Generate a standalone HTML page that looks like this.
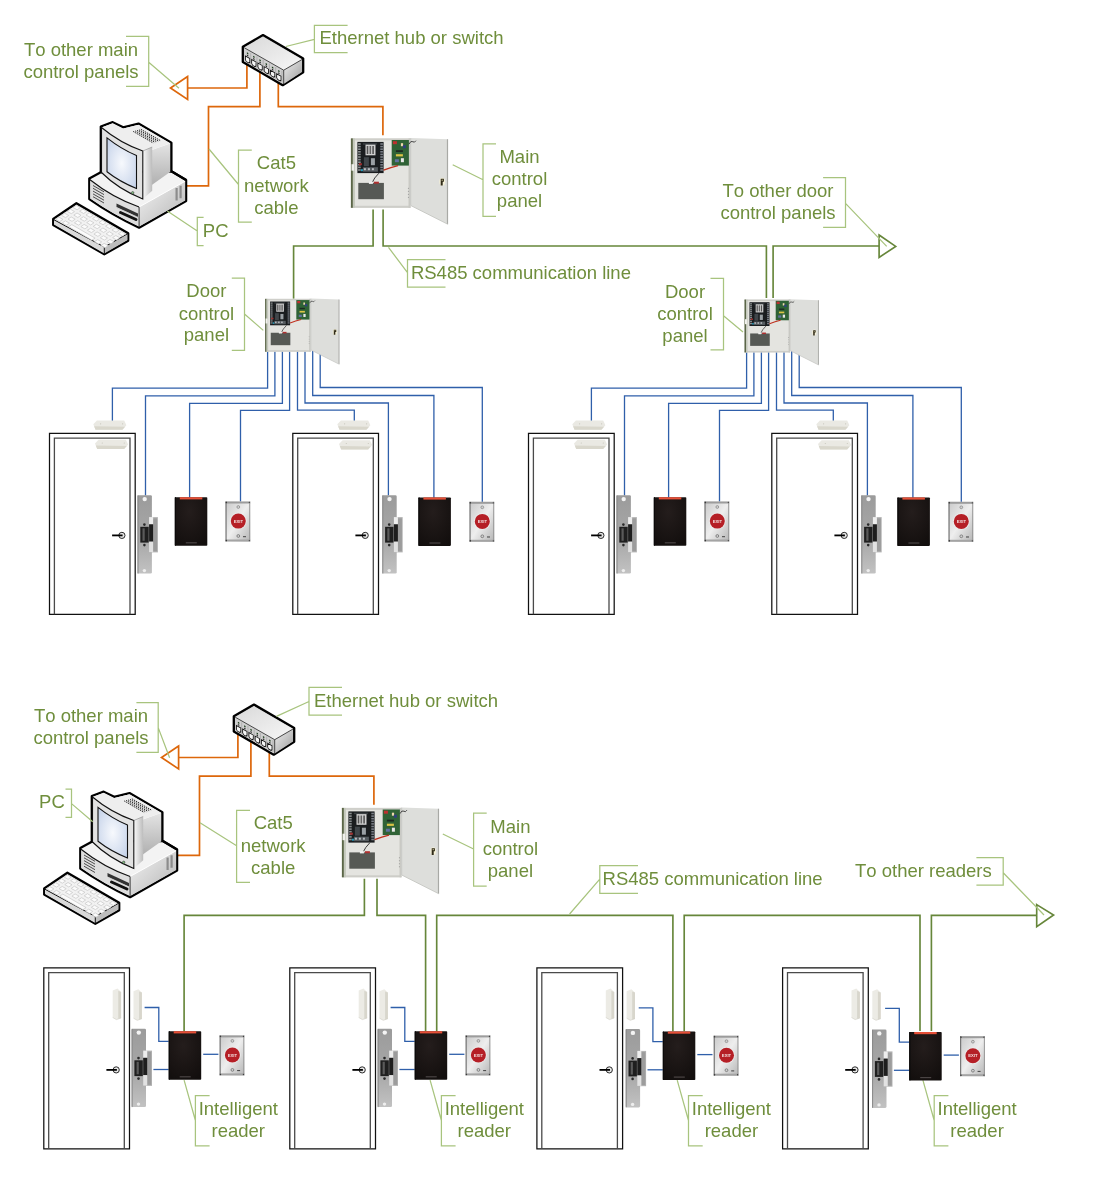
<!DOCTYPE html>
<html><head><meta charset="utf-8">
<style>
html,body{margin:0;padding:0;background:#fff;width:1100px;height:1200px;overflow:hidden}
svg{display:block;will-change:transform}
text{font-family:"Liberation Sans",sans-serif;font-size:18.5px;fill:#6F8E3C;font-kerning:none}
.br{fill:none;stroke:#A8C47E;stroke-width:1.25}
.ol{fill:none;stroke:#66863A;stroke-width:1.65}
.or{fill:none;stroke:#DD670B;stroke-width:1.7}
.bl{fill:none;stroke:#2F5FAA;stroke-width:1.3}
</style></head><body>
<svg width="1100" height="1200" viewBox="0 0 1100 1200">
<defs>
  <linearGradient id="steel" x1="0" y1="0" x2="1" y2="0">
    <stop offset="0" stop-color="#8a8a8a"/><stop offset=".45" stop-color="#d0d0d0"/><stop offset="1" stop-color="#9a9a9a"/>
  </linearGradient>
  <linearGradient id="silver" x1="0" y1="0" x2="1" y2="1">
    <stop offset="0" stop-color="#c9c9c9"/><stop offset=".5" stop-color="#eeeeee"/><stop offset="1" stop-color="#b5b5b5"/>
  </linearGradient>
  <radialGradient id="screen" cx=".5" cy=".5" r=".7">
    <stop offset="0" stop-color="#f7f9fd"/><stop offset="1" stop-color="#c2d0e8"/>
  </radialGradient>
  <linearGradient id="grayface" x1="0" y1="0" x2="1" y2="0">
    <stop offset="0" stop-color="#f4f4f4"/><stop offset="1" stop-color="#a8a8a8"/>
  </linearGradient>

  <!-- door (origin outer top-left) -->
  <g id="door">
    <path d="M0.3,181 V0.2 H86 V181 Z" fill="#fff" stroke="#111" stroke-width="1.25"/>
    <path d="M5.2,181 V4.8 H80.8 V181" fill="none" stroke="#4a4a4a" stroke-width="1.3"/>
    <circle cx="72.7" cy="102.1" r="3.1" fill="#e6e6e6" stroke="#222" stroke-width=".95"/>
    <path d="M62.9,102.1 H73.4" stroke="#000" stroke-width="1.8"/>
  </g>

  <linearGradient id="plate" x1="0" y1="0" x2="0" y2="1">
    <stop offset="0" stop-color="#9b9b9b"/><stop offset=".6" stop-color="#a9a9a9"/><stop offset="1" stop-color="#c2c2c2"/>
  </linearGradient>
  <!-- electric strike (origin plate top-left) -->
  <g id="strike">
    <rect x="11.4" y="21.8" width="9" height="35.3" fill="#b4b4b4"/>
    <rect x="15.6" y="23" width="4" height="33" fill="#9c9c9c"/>
    <rect x="0" y="0" width="14.4" height="78.3" rx="1.3" fill="url(#plate)"/>
    <rect x="0" y="0" width="1" height="78.3" fill="#888"/>
    <circle cx="7.2" cy="3.8" r="2.2" fill="#f4f4f4"/>
    <circle cx="6.9" cy="75.3" r="1.7" fill="#eee"/>
    <rect x="2.8" y="31.5" width="8.4" height="15.8" fill="#1f1f1f"/>
    <rect x="5" y="33" width="2.2" height="12.5" fill="#5a5a5a"/>
    <rect x="11.6" y="21.8" width="4" height="7.3" fill="#eeeeee"/>
    <rect x="11.6" y="29" width="4" height="17.5" fill="#1e1e1e"/>
    <rect x="11.6" y="46.3" width="4" height="10.5" fill="#e2e2e2"/>
    <circle cx="6.9" cy="29.3" r="1.3" fill="#2a2a2a"/>
    <circle cx="6.9" cy="49.8" r="1.3" fill="#2a2a2a"/>
  </g>

  <radialGradient id="rdr" cx=".45" cy=".3" r=".8">
    <stop offset="0" stop-color="#241d1c"/><stop offset="1" stop-color="#120e0d"/>
  </radialGradient>
  <!-- reader -->
  <g id="reader">
    <rect x="0" y="0" width="32.5" height="48.5" rx=".8" fill="url(#rdr)"/>
    <rect x="0" y="0" width="1.2" height="48.5" fill="#0c0a0a"/>
    <rect x="5" y="0" width="22.5" height="2.2" fill="#e65038"/>
    <rect x="11" y="45" width="11" height="1.2" fill="#4a4444"/>
  </g>

  <!-- exit button -->
  <g id="exitb">
    <rect x="0" y="0" width="24.7" height="40" fill="url(#silver)"/>
    <rect x="0" y="0" width="24.7" height="2" fill="#9c9c9c"/>
    <rect x="0" y="38" width="24.7" height="2" fill="#a4a4a4"/>
    <rect x="0" y="0" width="1.1" height="40" fill="#6e6e6e"/>
    <rect x="23.8" y="0" width=".9" height="40" fill="#8e8e8e"/>
    <g fill="#3a3a3a"><circle cx=".9" cy="1" r=".7"/><circle cx="23.8" cy="1" r=".6"/><circle cx=".9" cy="39" r=".7"/><circle cx="23.8" cy="39" r=".6"/></g>
    <circle cx="12.8" cy="5.5" r="1.4" fill="#d0d0d0" stroke="#777" stroke-width=".6"/>
    <circle cx="12.8" cy="34.5" r="1.4" fill="#d0d0d0" stroke="#666" stroke-width=".7"/>
    <path d="M17.5,35.2 h3" stroke="#333" stroke-width=".9"/>
    <circle cx="12.8" cy="19.6" r="8.3" fill="#ececec"/>
    <circle cx="12.8" cy="19.6" r="7.5" fill="#b51f26"/>
    <text x="12.8" y="21.2" text-anchor="middle" style="font-size:4.2px;font-weight:bold;fill:#f2dede">EXIT</text>
  </g>

  <!-- horizontal magnet contact -->
  <g id="magH">
    <path d="M3.6,-0.3 H30.9 L33.1,4.5 L29.1,9 H2.2 L0,3.5 Z" fill="#eae9e3"/>
    <path d="M0.8,5.5 L2.2,9 H29.1 L31.8,6 Z" fill="#d9d7cc"/>
    <circle cx="7.3" cy="3" r=".6" fill="#c8c6bc"/><circle cx="29.3" cy="3" r=".6" fill="#c8c6bc"/>
  </g>
  <g id="magV">
    <path d="M0,1.9 L4.8,0 L8.4,3.3 V29.4 L3.7,31 L0,28.9 Z" fill="#ecebe5"/>
    <path d="M5.6,2.2 L8.4,3.3 V29.4 L5.6,30.2 Z" fill="#d8d6cc"/>
    <path d="M0,28.9 L3.7,31 L8.4,29.4" fill="none" stroke="#cfcdc2" stroke-width=".6"/>
  </g>

  <!-- control panel (main size, origin box top-left) -->
  <g id="panel">
    <rect x="0" y="0.2" width="59.6" height="69.4" fill="#e4e4e0"/>
    <rect x="0" y="0.2" width="59.6" height="2" fill="#cfcfca"/>
    <rect x="0" y="67.6" width="59.6" height="2" fill="#cdcdc8"/>
    <rect x="57.6" y="0.2" width="2" height="69.4" fill="#c9c9c4"/>
    <rect x="0" y="0.2" width="2" height="69.4" fill="#5b6648"/><rect x="2" y="0.2" width="2" height="69.4" fill="#c4c8bc"/>
    <rect x="0.6" y="26" width="2.6" height="6.5" fill="#f0f0ec"/>
    <rect x="6.5" y="3.7" width="26.2" height="31.2" fill="#1a1d1f"/>
    <rect x="7.2" y="5.0" width="2.6" height="1.6" fill="#8a8f90"/><rect x="29.4" y="5.0" width="2.6" height="1.6" fill="#7a7f88"/><rect x="7.2" y="7.6" width="2.6" height="1.6" fill="#8a8f90"/><rect x="29.4" y="7.6" width="2.6" height="1.6" fill="#7a7f88"/><rect x="7.2" y="10.2" width="2.6" height="1.6" fill="#8a8f90"/><rect x="29.4" y="10.2" width="2.6" height="1.6" fill="#7a7f88"/><rect x="7.2" y="12.8" width="2.6" height="1.6" fill="#8a8f90"/><rect x="29.4" y="12.8" width="2.6" height="1.6" fill="#7a7f88"/><rect x="7.2" y="15.4" width="2.6" height="1.6" fill="#8a8f90"/><rect x="29.4" y="15.4" width="2.6" height="1.6" fill="#7a7f88"/><rect x="7.2" y="18.0" width="2.6" height="1.6" fill="#8a8f90"/><rect x="29.4" y="18.0" width="2.6" height="1.6" fill="#7a7f88"/><rect x="7.2" y="20.6" width="2.6" height="1.6" fill="#8a8f90"/><rect x="29.4" y="20.6" width="2.6" height="1.6" fill="#7a7f88"/><rect x="7.2" y="23.2" width="2.6" height="1.6" fill="#8a8f90"/><rect x="29.4" y="23.2" width="2.6" height="1.6" fill="#7a7f88"/><rect x="7.2" y="25.8" width="2.6" height="1.6" fill="#8a8f90"/><rect x="29.4" y="25.8" width="2.6" height="1.6" fill="#7a7f88"/><rect x="7.2" y="28.4" width="2.6" height="1.6" fill="#8a8f90"/><rect x="29.4" y="28.4" width="2.6" height="1.6" fill="#7a7f88"/><rect x="7.2" y="31.0" width="2.6" height="1.6" fill="#8a8f90"/><rect x="29.4" y="31.0" width="2.6" height="1.6" fill="#7a7f88"/>
    <rect x="12" y="5" width="14" height="1.5" fill="#3a3f42"/>
    <rect x="14.6" y="6.4" width="10" height="10.7" fill="#d0d0d0"/>
    <rect x="15.8" y="7.8" width="1.6" height="8" fill="#555"/><rect x="18.6" y="7.8" width="1.6" height="8" fill="#666"/><rect x="21.4" y="7.8" width="1.6" height="8" fill="#555"/>
    <rect x="13" y="19" width="5" height="9" fill="#40464a"/>
    <rect x="20" y="20" width="4" height="7" fill="#9aa0a4"/>
    <rect x="12" y="29" width="15" height="4.5" fill="#565c60"/>
    <rect x="13" y="30" width="2" height="2" fill="#b8bcc0"/><rect x="17" y="30" width="2" height="2" fill="#b8bcc0"/><rect x="21" y="30" width="2" height="2" fill="#b8bcc0"/>
    <rect x="10" y="31" width="2" height="2" fill="#2aa0c0"/>
    <rect x="8" y="25" width="3" height="2" fill="#a03030"/>
    <rect x="40.8" y="1.8" width="17.2" height="25.6" fill="#2f6236"/>
    <rect x="42" y="3" width="4" height="3" fill="#c03030"/>
    <rect x="50" y="5" width="2.2" height="3" fill="#f0d8b0"/>
    <rect x="52" y="7" width="3" height="3" fill="#304080"/>
    <rect x="45" y="12" width="7" height="1.8" fill="#1d2a22"/>
    <rect x="45" y="16" width="7" height="2.2" fill="#d9c445"/>
    <rect x="50" y="20" width="3" height="4" fill="#e8e8e8"/>
    <rect x="44" y="21" width="4" height="3" fill="#6070a0"/>
    <path d="M32.7,32 Q40,29 47.1,27.4" stroke="#c0301e" stroke-width="1.4" fill="none"/>
    <path d="M28,35 Q23,40 21.5,44" stroke="#3c3c3c" stroke-width="1" fill="none"/>
    <rect x="7.4" y="44.7" width="25.6" height="16.3" fill="#565955"/>
    <rect x="18" y="43.5" width="4" height="2.2" fill="#f0f0f0"/>
    <rect x="23" y="43.5" width="5" height="2" fill="#b03030"/>
    <g fill="#8a8a8a"><circle cx="57.5" cy="50" r=".5"/><circle cx="57.5" cy="53" r=".5"/><circle cx="57.5" cy="56" r=".5"/><circle cx="57.5" cy="59" r=".5"/></g>
    <path d="M59.8,-0.1 L97,1 V86.1 L59.8,67.3 Z" fill="#dddedb"/>
    <path d="M96,1 H97.2 V86.1 L96,85.5 Z" fill="#a8a9a5"/>
    <path d="M59.8,67.3 L97,86.1" stroke="#c0c1bd" stroke-width=".8"/>
    <path d="M59.8,-0.1 V67.3" stroke="#c8c9c5" stroke-width="1"/>
    <path d="M58,6 Q60,2 62,3.5 Q63.5,5 65,2.5" stroke="#333" stroke-width=".9" fill="none"/>
    <ellipse cx="91.3" cy="43.6" rx="2.9" ry="4" fill="#f4f0d8"/>
    <path d="M89.8,40.6 h3.2 v3 h-1.2 v3.8 h-2 z" fill="#2f2a18"/>
    <circle cx="91.3" cy="42" r=".6" fill="#e8e0b0"/>
  </g>

  <!-- ethernet hub (absolute coords of top instance) -->
  <linearGradient id="hubside" x1="0" y1="0" x2="1" y2="1">
    <stop offset="0" stop-color="#f0f0f0"/><stop offset="1" stop-color="#9c9c9c"/>
  </linearGradient>
  <linearGradient id="hubtop" x1="0" y1="0" x2="1" y2="1">
    <stop offset="0" stop-color="#d9d9d9"/><stop offset="1" stop-color="#f7f7f7"/>
  </linearGradient>
  <g id="hub">
    <path d="M242.8,46.7 L263,35.1 L303.2,58.6 V72.3 L282.7,85.2 L242.8,62 Z" fill="#d4d4d4" stroke="#000" stroke-width="2.3" stroke-linejoin="round"/>
    <path d="M244.2,47.7 L263,37 L302,59.5 L283.7,70.2 Z" fill="url(#hubtop)"/>
    <path d="M283.7,70.2 L302,59.5 V72 L283.7,84 Z" fill="url(#hubside)"/>
    <path d="M244,48 L283.7,70.7 V84 L244,61 Z" fill="#cfcfcf"/>
    <path d="M244.2,47.7 L283.7,70.2 L302,59.5 M283.7,70.2 V84.5" fill="none" stroke="#222" stroke-width=".8"/>
    <g transform="matrix(1,0.57,0,1,247.60,59.60)"><path d="M-2.2,-2.4 H2.2 V1.5 L1.1,2.8 H-1.1 L-2.2,1.5 Z" fill="#f6f6f6" stroke="#111" stroke-width=".9"/><rect x="-.7" y="-7" width="1.4" height="1.5" fill="#1a3a1a"/><rect x="-.7" y="-4.8" width="1.4" height="1.3" fill="#222"/><path d="M3.1,-8.5 V3.2" stroke="#9a9a9a" stroke-width=".5"/></g><g transform="matrix(1,0.57,0,1,253.85,63.16)"><path d="M-2.2,-2.4 H2.2 V1.5 L1.1,2.8 H-1.1 L-2.2,1.5 Z" fill="#f6f6f6" stroke="#111" stroke-width=".9"/><rect x="-.7" y="-7" width="1.4" height="1.5" fill="#1a3a1a"/><rect x="-.7" y="-4.8" width="1.4" height="1.3" fill="#222"/><path d="M3.1,-8.5 V3.2" stroke="#9a9a9a" stroke-width=".5"/></g><g transform="matrix(1,0.57,0,1,260.10,66.72)"><path d="M-2.2,-2.4 H2.2 V1.5 L1.1,2.8 H-1.1 L-2.2,1.5 Z" fill="#f6f6f6" stroke="#111" stroke-width=".9"/><rect x="-.7" y="-7" width="1.4" height="1.5" fill="#1a3a1a"/><rect x="-.7" y="-4.8" width="1.4" height="1.3" fill="#222"/><path d="M3.1,-8.5 V3.2" stroke="#9a9a9a" stroke-width=".5"/></g><g transform="matrix(1,0.57,0,1,266.35,70.28)"><path d="M-2.2,-2.4 H2.2 V1.5 L1.1,2.8 H-1.1 L-2.2,1.5 Z" fill="#f6f6f6" stroke="#111" stroke-width=".9"/><rect x="-.7" y="-7" width="1.4" height="1.5" fill="#1a3a1a"/><rect x="-.7" y="-4.8" width="1.4" height="1.3" fill="#222"/><path d="M3.1,-8.5 V3.2" stroke="#9a9a9a" stroke-width=".5"/></g><g transform="matrix(1,0.57,0,1,272.60,73.84)"><path d="M-2.2,-2.4 H2.2 V1.5 L1.1,2.8 H-1.1 L-2.2,1.5 Z" fill="#f6f6f6" stroke="#111" stroke-width=".9"/><rect x="-.7" y="-7" width="1.4" height="1.5" fill="#1a3a1a"/><rect x="-.7" y="-4.8" width="1.4" height="1.3" fill="#222"/><path d="M3.1,-8.5 V3.2" stroke="#9a9a9a" stroke-width=".5"/></g><g transform="matrix(1,0.57,0,1,278.85,77.40)"><path d="M-2.2,-2.4 H2.2 V1.5 L1.1,2.8 H-1.1 L-2.2,1.5 Z" fill="#f6f6f6" stroke="#111" stroke-width=".9"/><rect x="-.7" y="-7" width="1.4" height="1.5" fill="#1a3a1a"/><rect x="-.7" y="-4.8" width="1.4" height="1.3" fill="#222"/><path d="M3.1,-8.5 V3.2" stroke="#9a9a9a" stroke-width=".5"/></g></g>

  <linearGradient id="pcside" x1="0" y1="0" x2="1" y2="1">
    <stop offset="0" stop-color="#f4f4f4"/><stop offset="1" stop-color="#b4b4b4"/>
  </linearGradient>
  <linearGradient id="monside" x1="0" y1="0" x2="0" y2="1">
    <stop offset="0" stop-color="#e4e4e4"/><stop offset="1" stop-color="#b0b0b0"/>
  </linearGradient>
  <linearGradient id="bandside" x1="0" y1="0" x2="1" y2="0">
    <stop offset="0" stop-color="#fafafa"/><stop offset="1" stop-color="#bcbcbc"/>
  </linearGradient>
  <!-- PC (absolute coords of top instance) -->
  <g id="pc">
    <!-- keyboard -->
    <path d="M53.2,218.9 L76.4,203.2 L128.2,233.2 V240.7 L104.3,254.3 L53.2,225 Z" fill="#f2f2f2" stroke="#000" stroke-width="2.3" stroke-linejoin="round"/>
    <path d="M54,220 L104.3,247.5 V253.5 L54,224.5 Z" fill="#d9d9d9"/>
    <path d="M104.3,247.5 L127.5,234 V240 L104.3,253.5 Z" fill="#bdbdbd"/>
    <path d="M53.5,219.5 L104.3,247 L128,233.5 M104.3,247 V254" fill="none" stroke="#111" stroke-width="1"/>
    <path d="M76.3,205.3 L80.3,207.6 L77.1,209.8 L73.1,207.5 Z M82.8,209.1 L86.8,211.4 L83.6,213.5 L79.6,211.2 Z M89.2,212.8 L93.2,215.1 L90.1,217.3 L86.0,215.0 Z M95.7,216.6 L99.7,218.9 L96.5,221.0 L92.5,218.7 Z M102.2,220.3 L106.2,222.6 L103.0,224.8 L99.0,222.5 Z M108.7,224.1 L112.7,226.4 L109.5,228.5 L105.5,226.2 Z M115.1,227.8 L119.1,230.1 L116.0,232.3 L111.9,230.0 Z M121.6,231.6 L125.6,233.9 L122.4,236.0 L118.4,233.7 Z M70.5,209.2 L74.5,211.6 L71.3,213.7 L67.3,211.4 Z M77.0,213.0 L81.0,215.3 L77.8,217.5 L73.8,215.1 Z M83.4,216.7 L87.4,219.1 L84.3,221.2 L80.2,218.9 Z M89.9,220.5 L93.9,222.8 L90.7,225.0 L86.7,222.6 Z M96.4,224.2 L100.4,226.6 L97.2,228.7 L93.2,226.4 Z M102.9,228.0 L106.9,230.3 L103.7,232.5 L99.7,230.1 Z M109.3,231.7 L113.3,234.1 L110.2,236.2 L106.1,233.9 Z M115.8,235.5 L119.8,237.8 L116.6,240.0 L112.6,237.6 Z M64.7,213.2 L68.7,215.5 L65.5,217.6 L61.5,215.3 Z M71.2,216.9 L75.2,219.2 L72.0,221.4 L68.0,219.1 Z M77.6,220.7 L81.6,223.0 L78.5,225.1 L74.4,222.8 Z M84.1,224.4 L88.1,226.7 L84.9,228.9 L80.9,226.6 Z M90.6,228.2 L94.6,230.5 L91.4,232.6 L87.4,230.3 Z M97.1,231.9 L101.1,234.2 L97.9,236.4 L93.9,234.1 Z M103.5,235.7 L107.5,238.0 L104.4,240.1 L100.3,237.8 Z M110.0,239.4 L114.0,241.7 L110.8,243.9 L106.8,241.6 Z M58.9,217.1 L62.9,219.4 L59.7,221.6 L55.7,219.2 Z M65.4,220.8 L69.4,223.2 L66.2,225.3 L62.2,223.0 Z M97.7,239.6 L101.7,241.9 L98.6,244.1 L94.5,241.7 Z M104.2,243.3 L108.2,245.7 L105.0,247.8 L101.0,245.5 Z M71.8,224.6 L95.1,238.1 L91.9,240.2 L68.6,226.7 Z" fill="#fbfbfb" stroke="#c6c6c6" stroke-width=".7"/>
    <!-- base -->
    <path d="M89.3,178.6 L100.8,172.3 L171.4,171.3 L186.1,180 V201.1 L139.1,227.7 Q112,215 89.3,199.1 Z" fill="#f3f3f3" stroke="#000" stroke-width="2.3" stroke-linejoin="round"/>
    <path d="M90.2,180 Q113,198 139.1,207 V226.6 Q112,214 90.2,198.6 Z" fill="#dedede"/>
    <path d="M139.1,207 L185.2,181.2 V200.6 L139.1,226.6 Z" fill="url(#pcside)"/>
    <path d="M90,179.8 Q113,198 139.1,207" fill="none" stroke="#111" stroke-width="1.1"/>
    <path d="M139.1,207 L185.2,181.2" fill="none" stroke="#fff" stroke-width="1"/>
    <path d="M139.1,207 V227" fill="none" stroke="#222" stroke-width=".9"/>
    <g stroke="#333" stroke-width=".85">
      <path d="M93,185.5 l11,6.3 M93,188.3 l11,6.3 M93,191.1 l11,6.3 M93,193.9 l11,6.3 M93,196.7 l11,6.3"/>
    </g>
    <path d="M176.6,188 v12.5 M180.6,185.7 v12.5" stroke="#8c8c8c" stroke-width="2.2"/>
    <path d="M116.5,203.5 L138,213.5 V217 L116.5,207 Z" fill="#333"/>
    <path d="M117,208 L138,217.5" stroke="#ccc" stroke-width="1" stroke-dasharray="1 1"/>
    <path d="M120.5,212.5 L136,219.5" stroke="#111" stroke-width="3" stroke-linecap="round"/>
    <!-- monitor -->
    <path d="M151.8,149.9 L170.8,143.3 V171.6 L151.8,185 Z" fill="url(#monside)"/>
    <path d="M100.8,172.3 V126.5 L112.7,122.2 L123.2,127.4 L138.5,123.6 L171.4,142.7 V171.3 L186.1,180" fill="none" stroke="#000" stroke-width="2.3" stroke-linejoin="round"/>
    <path d="M101.8,127.5 L112.7,123.3 L123.2,128.5 L138.5,124.7 L170.3,143.2 L151.8,149.9 L142.8,151 Q120,143 101.8,127.5 Z" fill="#eeeeee"/>
    <path d="M142.8,151 L152.2,147 V190.8 L142.8,199 Z" fill="url(#bandside)"/>
    <path d="M101.5,127.5 Q120,143 142.8,151 V199 Q118,189 101.5,172.5 Z" fill="#e2e2e2" stroke="#111" stroke-width="1.1"/>
    <path d="M107,137.9 Q121,149 136.5,155.6 V188.5 Q120,182 107,171.8 Z" fill="url(#screen)" stroke="#111" stroke-width="1.1"/>
    <path d="M142.8,151 L152.2,147" stroke="#888" stroke-width=".6"/>
    <circle cx="132.7" cy="192.8" r="1.2" fill="#8c8" stroke="#333" stroke-width=".6"/>
    <path d="M140.90,129.30 l20,11.6 M138.97,129.83 l20,11.6 M137.04,130.36 l20,11.6 M135.11,130.89 l20,11.6 M133.18,131.42 l20,11.6 " stroke="#1a1a1a" stroke-width=".95" stroke-dasharray="1.4 .9"/>
  </g>
</defs>

<!-- ===================== TOP DIAGRAM ===================== -->
<!-- orange cat5 -->
<path class="or" d="M246.9,64 V88 H187.6"/>
<path class="or" d="M187.6,76.5 L170.5,88 L187.6,99.4 Z"/>
<path class="or" d="M259.9,71.5 V106.7 H208.5 V185.8 H186.4"/>
<path class="or" d="M278.3,83 V106.7 H382.9 V135.3"/>
<use href="#hub"/>
<use href="#pc"/>
<use href="#panel" x="350.9" y="138.2"/>

<!-- RS485 top -->
<path class="ol" d="M373.1,209.5 V246 H293.6 V298.7"/>
<path class="ol" d="M383.1,209.5 V246 H766.4 V298"/>
<path class="ol" d="M773.1,298 V246 H879.1"/>
<path class="ol" d="M879.1,235 L895.7,246.4 L879.1,257.4 Z"/>

<!-- door control panels -->

<!-- top door groups -->
<g id="tg1">
  <path class="bl" d="M267.6,351 V388.2 H112.4 V421"/>
  <path class="bl" d="M274.9,351 V395.8 H145.5 V495.5"/>
  <path class="bl" d="M282.4,351 V403.3 H189.6 V497.5"/>
  <path class="bl" d="M289.6,351 V410.4 H240.5 V501.8"/>
  <path class="bl" d="M297.5,351 V410.2 H354.3 V421"/>
  <path class="bl" d="M305,351 V403 H388.4 V495.5"/>
  <path class="bl" d="M312.7,351 V395.5 H433.9 V497.7"/>
  <path class="bl" d="M320.2,351 V387.5 H482.3 V502"/>
  <use href="#door" x="49.2" y="433.3"/>
  <use href="#magH" x="93.3" y="420.8"/>
  <use href="#magH" x="95" y="440"/>
  <use href="#strike" x="137.5" y="495.3"/>
  <use href="#reader" x="174.8" y="497.2"/>
  <use href="#exitb" x="225.5" y="501.5"/>
  <use href="#door" x="292.5" y="433.3"/>
  <use href="#magH" x="337.3" y="420.8"/>
  <use href="#magH" x="339" y="440.5"/>
  <use href="#strike" x="382.3" y="495.3"/>
  <use href="#reader" x="418.4" y="497.4"/>
  <use href="#exitb" x="469.5" y="501.8"/>
</g>
<use href="#tg1" x="479"/>
<g transform="translate(265.1,298.7) scale(0.765,0.762)"><use href="#panel"/></g>
<g transform="translate(744.5,299.4) scale(0.765,0.762)"><use href="#panel"/></g>

<!-- top labels -->
<path class="br" d="M126,36.4 H148.7 V86.4 H126 M148.7,62.2 L179,88.2"/>
<text x="81" y="56.1" text-anchor="middle">To other main</text>
<text x="81" y="78.4" text-anchor="middle">control panels</text>

<path class="br" d="M347.6,25.4 H314.4 V52.6 H347.6 M285.8,46.5 L314.4,39.3"/>
<text x="319.5" y="43.9">Ethernet hub or switch</text>

<path class="br" d="M251.8,150 H238.5 V222 H251.8 M209,149 L238.5,184.5"/>
<text x="276.4" y="169.1" text-anchor="middle">Cat5</text>
<text x="276.4" y="191.6" text-anchor="middle">network</text>
<text x="276.4" y="213.6" text-anchor="middle">cable</text>

<path class="br" d="M203.6,217.3 H197.3 V245.5 H203.6 M167.3,211 L197.3,231"/>
<text x="202.8" y="237.0">PC</text>

<path class="br" d="M496,143.8 H483 V216.4 H496 M452.7,164.8 L483,179.8"/>
<text x="519.5" y="162.7" text-anchor="middle">Main</text>
<text x="519.5" y="185.3" text-anchor="middle">control</text>
<text x="519.5" y="207.2" text-anchor="middle">panel</text>

<path class="br" d="M445.5,259.5 H407.5 V287.1 H445.5 M388.5,247.3 L407.5,272.7"/>
<text x="410.9" y="278.8">RS485 communication line</text>

<path class="br" d="M823.1,177.6 H845.5 V227.3 H823.1 M845.5,203.4 L886.7,246.4"/>
<text x="778" y="196.9" text-anchor="middle">To other door</text>
<text x="778" y="219.3" text-anchor="middle">control panels</text>

<path class="br" d="M231.8,278.2 H244.5 V350.4 H231.8 M244.5,314 L263.3,330.4"/>
<text x="206.4" y="297.0" text-anchor="middle">Door</text>
<text x="206.4" y="319.6" text-anchor="middle">control</text>
<text x="206.4" y="341.1" text-anchor="middle">panel</text>

<path class="br" d="M710.5,278.4 H723.5 V349.8 H710.5 M723.5,315.7 L743,331.9"/>
<text x="685" y="297.9" text-anchor="middle">Door</text>
<text x="685" y="319.6" text-anchor="middle">control</text>
<text x="685" y="341.5" text-anchor="middle">panel</text>

<!-- ===================== BOTTOM DIAGRAM ===================== -->
<g transform="translate(-9,669.5)">
  <path class="or" d="M246.9,64 V88 H187.6"/>
  <path class="or" d="M187.6,76.5 L170.5,88 L187.6,99.4 Z"/>
  <path class="or" d="M259.9,71.5 V106.7 H208.5 V185.8 H186.4"/>
  <path class="or" d="M278.3,83 V106.7 H382.9 V135.3"/>
  <use href="#hub"/>
  <use href="#pc"/>
  <use href="#panel" x="350.9" y="138.2"/>
</g>

<!-- RS485 bottom -->
<path class="ol" d="M364.4,878.8 V915.3 H184.1 V1031.2"/>
<path class="ol" d="M377,878.8 V915.3 H425.6 V1031.2"/>
<path class="ol" d="M436.7,1031.2 V915.3 H672.9 V1031.2"/>
<path class="ol" d="M684.2,1031.2 V915.3 H920 V1031"/>
<path class="ol" d="M931.4,1031 V915.3 H1036.7"/>
<path class="ol" d="M1036.7,904.6 L1053.6,915 L1036.7,926.7 Z"/>

<g id="bg1">
  <use href="#door" x="43.5" y="967.8"/>
  <use href="#magV" x="112.7" y="988.6"/>
  <use href="#magV" x="133.5" y="989.3"/>
  <path class="br" d="M209.6,1095.7 H195.4 V1145.8 H209.6 M184.1,1080.1 L195.4,1120.5"/>
  <text x="238.3" y="1114.5" text-anchor="middle">Intelligent</text>
  <text x="238.3" y="1137.1" text-anchor="middle">reader</text>
</g>
<g id="bd1">
  <path class="bl" d="M144.6,1007.5 H158.8 V1041.3 H168.7"/>
  <path class="bl" d="M153.4,1069.5 H168.7"/>
  <path class="bl" d="M203.2,1054.3 H218.4"/>
  <use href="#strike" x="131.6" y="1028.8"/>
  <use href="#reader" x="168.7" y="1031.2"/>
  <use href="#exitb" x="219.6" y="1035.4"/>
</g>
<use href="#bg1" x="246"/>
<use href="#bd1" x="246"/>
<use href="#bg1" x="493.1"/>
<use href="#bd1" x="494.1" y="0.3"/>
<use href="#bg1" x="738.8"/>
<use href="#bd1" x="740.5" y="0.8"/>

<!-- bottom labels -->
<path class="br" d="M136.4,702.7 H158.2 V752.4 H136.4 M158.2,727.6 L169.6,757.8"/>
<text x="91" y="722.1" text-anchor="middle">To other main</text>
<text x="91" y="744.2" text-anchor="middle">control panels</text>

<path class="br" d="M342,687.4 H309 V715 H342 M276.4,716.4 L309,701.5"/>
<text x="314" y="706.7">Ethernet hub or switch</text>

<path class="br" d="M65.5,789 H71.5 V817.3 H65.5 M71.5,803.6 L92.7,821.8"/>
<text x="39.1" y="808.4">PC</text>

<path class="br" d="M250,810.3 H236.6 V882.4 H250 M200,822.8 L236.6,845.7"/>
<text x="273.2" y="829.1" text-anchor="middle">Cat5</text>
<text x="273.2" y="851.8" text-anchor="middle">network</text>
<text x="273.2" y="873.5" text-anchor="middle">cable</text>

<path class="br" d="M486.7,813 H473.6 V886 H486.7 M442.8,834 L473.6,849"/>
<text x="510.4" y="833.3" text-anchor="middle">Main</text>
<text x="510.4" y="855.1" text-anchor="middle">control</text>
<text x="510.4" y="877.0" text-anchor="middle">panel</text>

<path class="br" d="M638,865.5 H599.8 V893.3 H638 M569.6,914 L599.8,879.2"/>
<text x="602.6" y="884.5">RS485 communication line</text>

<path class="br" d="M976.4,857.7 H1003.2 V885 H976.4 M1003.2,872.7 L1044,915"/>
<text x="855" y="877.4">To other readers</text>

</svg>
</body></html>
